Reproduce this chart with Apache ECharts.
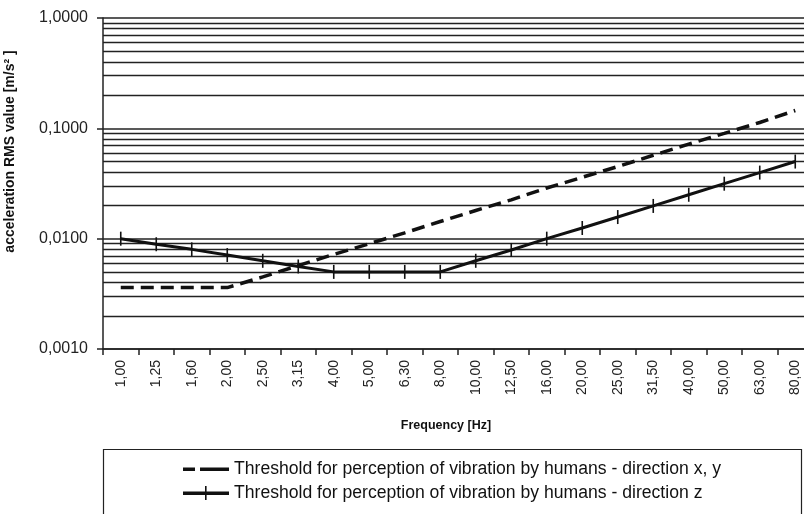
<!DOCTYPE html>
<html>
<head>
<meta charset="utf-8">
<script src="https://cdn.jsdelivr.net/npm/echarts@6/dist/echarts.min.js"></script>
<style>
  html, body { margin: 0; padding: 0; background: #fff; }
  #chart { width: 804px; height: 514px; }
</style>
</head>
<body>
<div id="chart"></div>
<script>
// frequency bands (Hz)
const freqs = ['1,00', '1,25', '1,60', '2,00', '2,50', '3,15', '4,00', '5,00', '6,30', '8,00',
  '10,00', '12,50', '16,00', '20,00', '25,00', '31,50', '40,00', '50,00', '63,00', '80,00']
// threshold x, y
const xyValues = [0.0036, 0.0036, 0.0036, 0.0036, 0.0045, 0.0057, 0.0072, 0.009, 0.0113, 0.0143,
  0.018, 0.0225, 0.0288, 0.036, 0.045, 0.057, 0.072, 0.09, 0.113, 0.145]
// threshold z
const zValues = [0.01, 0.0089, 0.008, 0.0071, 0.0063, 0.0056, 0.005, 0.005, 0.005, 0.005,
  0.0063, 0.0079, 0.01, 0.0125, 0.0157, 0.0198, 0.025, 0.0315, 0.0397, 0.05]
// minor horizontal grid lines
const minorLines = [0.002, 0.003, 0.004, 0.005, 0.006, 0.007, 0.008, 0.009,
  0.02, 0.03, 0.04, 0.05, 0.06, 0.07, 0.08, 0.09,
  0.2, 0.3, 0.4, 0.5, 0.6, 0.7, 0.8, 0.9]

const nameXY = 'Threshold for perception of vibration by humans - direction x, y'
const nameZ = 'Threshold for perception of vibration by humans - direction z'
const font = '"Liberation Sans", Arial, sans-serif'

// legend icons (line only, no dots)
const iconDash = 'path://M0,0h0.01v0.01h-0.01z M0,5.5h12v3.5h-12z M17,5.5h29v3.5h-29z M0,14h0.01v0.01h-0.01z'
const iconCross = 'path://M0,0h0.01v0.01h-0.01z M0,5.5h46v3.5h-46z M22,0h1.6v14h-1.6z'

const chart = echarts.init(document.getElementById('chart'))
chart.setOption({
  backgroundColor: '#fff',
  animation: false,
  textStyle: { fontFamily: font, color: '#111' },
  grid: { left: 103, top: 18, right: -9, bottom: 165, outerBoundsMode: 'none', containLabel: false },
  graphic: [{
    type: 'rect',
    shape: { x: 103.5, y: 449.5, width: 698, height: 80 },
    style: { fill: 'none', stroke: '#222', lineWidth: 1.2 }
  }],
  legend: {
    orient: 'vertical',
    left: 178,
    top: 455,
    itemGap: 6,
    itemWidth: 46,
    itemHeight: 18,
    textStyle: { fontFamily: font, fontSize: 17.6, color: '#111' },
    data: [{ name: nameXY, icon: iconDash }, { name: nameZ, icon: iconCross }]
  },
  xAxis: {
    type: 'category',
    data: freqs,
    boundaryGap: true,
    name: 'Frequency [Hz]',
    nameLocation: 'middle',
    nameGap: 70,
    nameTextStyle: { fontFamily: font, fontSize: 12.5, fontWeight: 'bold', color: '#111', padding: [0, 0, 0, -24] },
    axisLine: { lineStyle: { color: '#222', width: 1.5 } },
    axisTick: { show: true, length: 6, lineStyle: { color: '#222', width: 1.5 } },
    axisLabel: { rotate: 90, fontSize: 14, color: '#222', margin: 11 },
    splitLine: { show: false }
  },
  yAxis: {
    type: 'log',
    logBase: 10,
    min: 0.001,
    max: 1,
    name: 'acceleration RMS value [m/s\u00B2 ]',
    nameLocation: 'middle',
    nameGap: 86,
    nameTextStyle: { fontFamily: font, fontSize: 14, fontWeight: 'bold', color: '#111', padding: [0, 0, 0, 64] },
    axisLine: { show: true, lineStyle: { color: '#222', width: 1.5 } },
    axisTick: { show: true, length: 6, lineStyle: { color: '#222', width: 1.5 } },
    axisLabel: {
      fontSize: 16, color: '#222', margin: 15,
      formatter: v => v.toFixed(4).replace('.', ',')
    },
    splitLine: { show: true, lineStyle: { color: '#222', width: 1.5 } }
  },
  series: [
    {
      name: nameXY,
      type: 'line',
      data: xyValues,
      showSymbol: false,
      symbol: 'none',
      lineStyle: { color: '#111', width: 3.5, type: [13, 7] },
      itemStyle: { color: '#111' },
      z: 5,
      markLine: {
        silent: true,
        symbol: 'none',
        precision: 6,
        label: { show: false },
        lineStyle: { color: '#222', width: 1.4, type: 'solid' },
        data: minorLines.map(v => ({ yAxis: v }))
      }
    },
    {
      name: nameZ,
      type: 'line',
      data: zValues,
      symbol: 'rect',
      symbolSize: [1.6, 14],
      showSymbol: true,
      lineStyle: { color: '#111', width: 3 },
      itemStyle: { color: '#111' },
      z: 6
    }
  ]
})
</script>
</body>
</html>
